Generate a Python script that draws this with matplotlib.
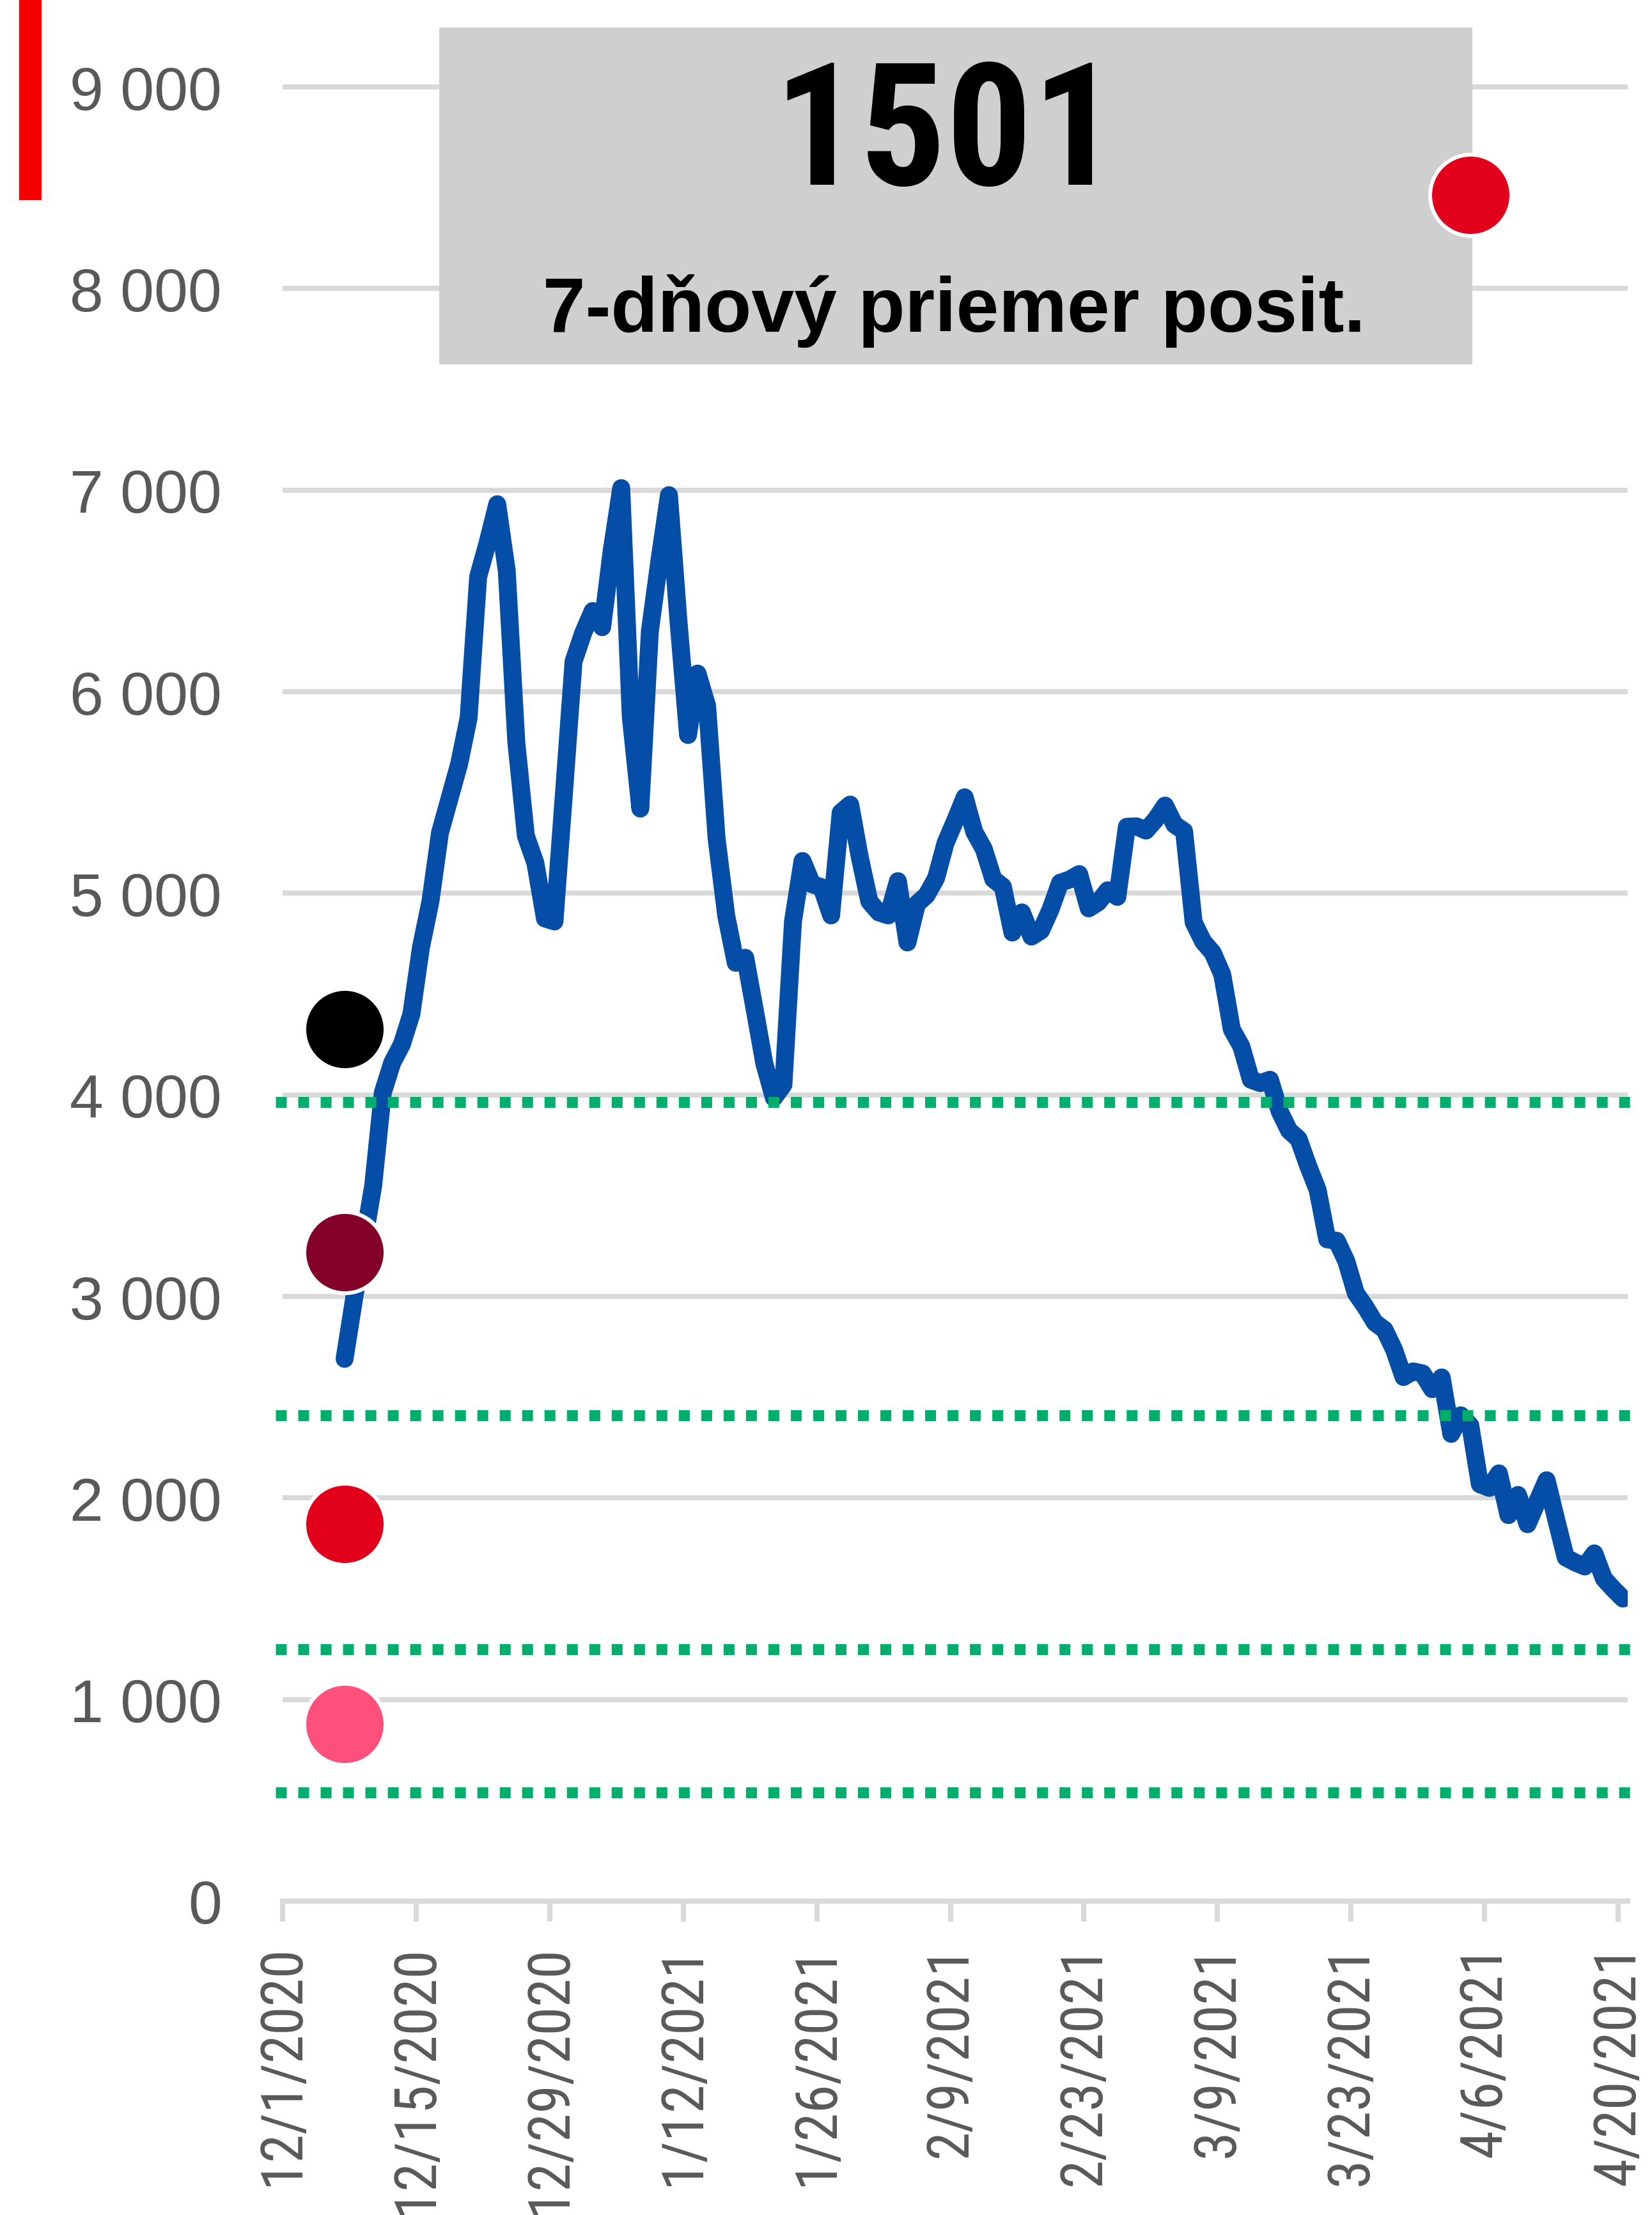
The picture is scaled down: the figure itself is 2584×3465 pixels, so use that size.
import matplotlib
matplotlib.use("Agg")
import matplotlib.pyplot as plt
from matplotlib import font_manager as fm
from matplotlib.patches import Rectangle
import pandas as pd
import numpy as np

# ---------------- data ----------------
start_date = "2020-12-07"
avg7 = [2690, 2990, 3270, 3550, 4010, 4160, 4250, 4400, 4730, 4960,
        5300, 5470, 5640, 5870, 6570, 6740, 6930, 6600, 5750, 5285,
        5150, 4875, 4860, 5500, 6150, 6290, 6400, 6320, 6700, 7010,
        5875, 5420, 6300, 6650, 6975, 6350, 5785, 6090, 5930, 5270,
        4890, 4655, 4680, 4420, 4155, 3985, 4050, 4860, 5160, 5045,
        5030, 4890, 5400, 5440, 5180, 4960, 4905, 4890, 5060, 4756,
        4948, 4990, 5075, 5250, 5360, 5476, 5305, 5220, 5070, 5033,
        4805, 4905, 4785, 4815, 4920, 5052, 5068, 5095, 4925, 4955,
        5015, 4982, 5330, 5332, 5311, 5365, 5435, 5340, 5308, 4856,
        4760, 4705, 4597, 4325, 4240, 4075, 4058, 4075, 3920, 3823,
        3781, 3648, 3528, 3283, 3276, 3175, 3016, 2948, 2870, 2835,
        2737, 2600, 2628, 2618, 2540, 2598, 2318, 2410, 2360, 2068,
        2050, 2122, 1915, 2015, 1870, 1980, 2088, 1894, 1705, 1680,
        1660, 1725, 1600, 1548, 1501]

axis_start = "2020-12-01"
axis_days = 141
tick_step_days = 14

threshold_levels = [3964, 2410, 1248, 539]

left_dot_values = [4327, 3220, 1870, 880]
left_dot_colors = ["#000000", "#830028", "#E2001A", "#FF4F7B"]
left_dot_date = "2020-12-07"

top_dot_value = 8464
top_dot_date = "2021-04-04"

big_number = "1501"
subtitle = "7-dňový priemer posit."

y_ticks = list(range(0, 9001, 1000))
y_tick_labels = [f"{v:,}".replace(",", " ") for v in y_ticks]

# ---------------- fonts ----------------
def has_font(name):
    try:
        fm.findfont(fm.FontProperties(family=name), fallback_to_default=False)
        return True
    except Exception:
        return False

REG = "Liberation Sans" if has_font("Liberation Sans") else "DejaVu Sans"


def weight_num(w):
    if isinstance(w, (int, float)):
        return int(w)
    w = str(w).lower()
    if "bold" in w or "black" in w or "heavy" in w:
        return 700
    try:
        return int(w)
    except ValueError:
        return 400


def find_condensed(bold):
    prio = ["liberation sans narrow", "roboto condensed", "open sans condensed",
            "noto sans", "dejavu sans", "liberation sans"]
    best, best_rank = None, 99
    for f in fm.fontManager.ttflist:
        name = f.name.lower()
        fname = f.fname.lower()
        st = str(f.stretch).lower()
        cond = ("condensed" in st or "narrow" in name or "condensed" in name
                or "narrow" in fname or "condensed" in fname)
        if not cond or "semi" in st and "condensed" not in name:
            continue
        if "mono" in name or ("serif" in name and "sans" not in name):
            continue
        if f.style != "normal":
            continue
        w = weight_num(f.weight)
        if bold and w < 600:
            continue
        if not bold and w >= 600:
            continue
        if "light" in fname or "thin" in fname or "black" in fname:
            continue
        rank = 50
        for i, p in enumerate(prio):
            if name.startswith(p):
                rank = i
                break
        if rank < best_rank:
            best, best_rank = f, rank
    return best.fname if best is not None else None


cond_reg = find_condensed(False)
cond_bold = find_condensed(True)


def fp_for(path, family, bold=False):
    if path:
        return fm.FontProperties(fname=path)
    return fm.FontProperties(family=family, weight="bold" if bold else "normal")


fp_xlab = fp_for(cond_reg, REG)
fp_num = fp_for(cond_bold, REG, bold=True)

# ---------------- figure ----------------
W, H, DPI = 2584, 3466, 200
fig = plt.figure(figsize=(W / DPI, H / DPI), dpi=DPI)
px = 72.0 / DPI  # points per pixel
renderer = fig.canvas.get_renderer()


def fit_size(text, fp, target_w_px, target_digit_h_px, w_weight=0.5):
    t = fig.text(0, 0, text, fontproperties=fp, fontsize=100)
    w = t.get_window_extent(renderer).width
    t.remove()
    size_w = 100 * target_w_px / w            # points giving target width
    size_h = target_digit_h_px / 0.72 * px    # points giving target digit height
    return float(size_w ** w_weight * size_h ** (1 - w_weight))


ax_left, ax_right = 442, 2546
ax_bottom_px = 2975      # y of value 0 (from top)
ymax = 9400
px_per_unit = 0.31533
ax_top_px = ax_bottom_px - ymax * px_per_unit
ax = fig.add_axes([ax_left / W, (H - ax_bottom_px) / H,
                   (ax_right - ax_left) / W, (ax_bottom_px - ax_top_px) / H])

base = pd.Timestamp(axis_start)
dates = pd.date_range(start_date, periods=len(avg7), freq="D")
xpos = (dates - base).days.values + 0.5

grid_col = "#D9D9D9"
text_col = "#595959"

ax.set_xlim(0, axis_days)
ax.set_ylim(0, ymax)

# grid
ax.set_yticks(y_ticks)
ax.set_yticklabels(y_tick_labels)
ax.yaxis.grid(True, color=grid_col, lw=8 * px, zorder=0)
ax.set_axisbelow(True)
for s in ["left", "right", "top"]:
    ax.spines[s].set_visible(False)
ax.spines["bottom"].set_color(grid_col)
ax.spines["bottom"].set_linewidth(8 * px)
ax.spines["bottom"].set_zorder(0.5)

ax.tick_params(axis="y", length=0, pad=95 * px, labelsize=95 * px,
               labelcolor=text_col)
for lab in ax.get_yticklabels():
    lab.set_fontfamily(REG)

tick_days = list(range(0, axis_days, tick_step_days))
tick_dates = [base + pd.Timedelta(days=d) for d in tick_days]
xlabels = [f"{d.month}/{d.day}/{d.year}" for d in tick_dates]
ax.set_xticks(tick_days)
ax.set_xticklabels(xlabels, rotation=90, va="top", ha="center")
xlab_size = fit_size(xlabels[0], fp_xlab, 378, 77, w_weight=1.0)
ax.tick_params(axis="x", length=32 * px, width=8 * px, color=grid_col,
               pad=35 * px, labelcolor=text_col, direction="out")
for lab in ax.get_xticklabels():
    lab.set_fontproperties(fp_xlab)
    lab.set_fontsize(xlab_size)
    lab.set_color(text_col)

# main line
ax.plot(xpos, avg7, color="#044EA8", lw=28 * px, solid_joinstyle="round",
        solid_capstyle="round", zorder=3)

# threshold dotted lines
for lv in threshold_levels:
    ax.axhline(lv, xmin=-0.0052, xmax=1.0067, color="#00AE6B", lw=17 * px,
               linestyle=(0, (1.0, 1.06)), dash_capstyle="butt", zorder=4,
               clip_on=False)

# dots
ldx = (pd.Timestamp(left_dot_date) - base).days + 0.5
for val, col in zip(left_dot_values, left_dot_colors):
    ax.plot([ldx], [val], "o", ms=127 * px, mfc=col, mec="white",
            mew=6 * px, zorder=6, clip_on=False)
tdx = (pd.Timestamp(top_dot_date) - base).days + 0.5
ax.plot([tdx], [top_dot_value], "o", ms=127 * px, mfc="#E2001A", mec="white",
        mew=6 * px, zorder=6, clip_on=False)

# title box (behind dot, above grid)
box = Rectangle((687 / W, (H - 571) / H), 1616 / W, 527 / H,
                transform=fig.transFigure, facecolor="#D0CFD0",
                edgecolor="none", zorder=2, clip_on=False)
ax.add_patch(box)
num_size = fit_size(big_number, fp_num, 491, 211, w_weight=0.5)
t_num = ax.text(1480 / W, (H - 289) / H, big_number, transform=fig.transFigure,
                ha="center", va="baseline", fontproperties=fp_num,
                color="black", zorder=2.5)
t_num.set_fontsize(num_size)
if cond_bold is None:
    t_num.set_fontweight("bold")
ax.text(1492 / W, (H - 519) / H, subtitle, transform=fig.transFigure,
        ha="center", va="baseline", fontsize=120 * px, fontweight="bold",
        fontfamily=REG, color="black", zorder=2.5)

# red accent bar
fig.patches.append(Rectangle((29.5 / W, (H - 314) / H), 35.5 / W, 314 / H,
                             transform=fig.transFigure, facecolor="#F70000",
                             edgecolor="none"))

fig.savefig("out.png", dpi=DPI, facecolor="white")
